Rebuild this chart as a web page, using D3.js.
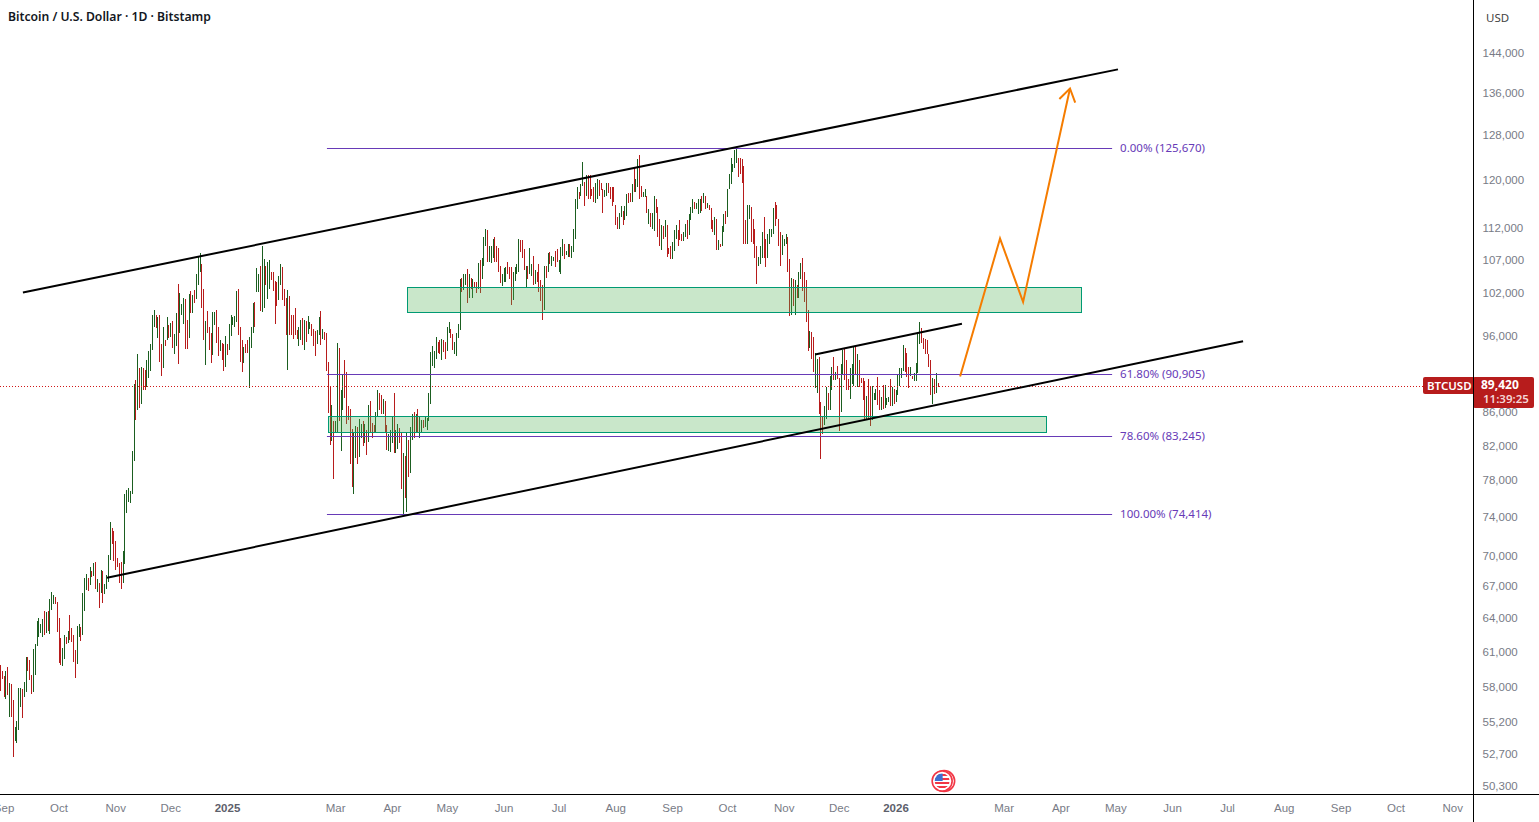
<!DOCTYPE html>
<html>
<head>
<meta charset="utf-8">
<title>Bitcoin / U.S. Dollar</title>
<script src="https://cdn.jsdelivr.net/npm/d3@7/dist/d3.min.js"></script>
<style>
  html, body { margin: 0; padding: 0; background: #fff; overflow: hidden; }
  svg { display: block; font-family: "Noto Sans", sans-serif; }
</style>
</head>
<body>
<svg id="chart" width="1539" height="822"></svg>
<script>
// Daily BTC/USD from 30 Aug 2024, in thousands of dollars.
const firstDay = Date.UTC(2024, 7, 30);
const highs = [
59.9,59.4,59.0,59.4,59.7,58.4,58.3,57.0,54.8,55.3,
58.0,58.0,57.9,58.5,60.6,60.6,60.3,59.1,61.3,61.7,
63.8,64.1,63.5,64.0,64.7,64.6,64.7,65.9,66.5,66.2,
66.0,65.6,64.1,62.3,61.4,62.5,62.4,62.9,64.4,63.2,
62.5,61.2,63.4,63.5,63.3,66.4,67.9,68.3,67.9,68.9,
68.6,69.3,69.4,67.8,67.4,68.7,68.6,67.3,68.2,70.1,
73.5,72.9,72.6,71.6,69.8,69.3,69.4,70.5,76.5,77.0,
77.2,76.9,81.4,89.6,90.1,93.5,91.7,91.8,91.7,91.4,
92.7,94.0,94.9,99.0,99.7,98.9,98.6,98.9,94.9,97.2,
95.4,98.6,97.5,97.8,98.1,96.3,99.2,103.5,102.1,100.5,
101.4,101.2,98.2,102.0,102.4,101.8,102.5,105.0,107.6,108.2,
106.4,102.7,98.1,99.5,97.3,96.4,99.3,99.3,99.7,97.2,
95.5,95.0,94.9,96.0,94.9,97.7,98.9,98.6,98.8,102.4,
102.7,97.2,95.4,94.5,94.9,95.4,95.9,97.2,100.7,100.8,
105.8,104.9,106.2,109.3,107.2,106.2,106.7,107.0,105.2,105.3,
103.9,103.7,104.7,106.4,106.0,102.7,101.4,102.5,101.7,99.0,
99.0,100.0,96.8,97.2,98.3,98.5,98.2,98.1,98.8,98.0,
97.7,97.0,96.7,96.8,98.6,99.5,97.0,96.6,96.4,92.5,
89.4,87.0,85.0,85.0,95.0,94.4,88.9,90.9,92.8,91.2,
86.9,86.5,84.0,83.5,84.4,84.3,85.3,84.6,85.0,84.6,
83.9,87.0,87.5,84.8,84.5,86.1,88.8,88.5,88.2,87.7,
87.5,84.5,83.4,83.9,85.5,88.5,83.9,84.6,84.2,83.7,
81.2,80.8,83.5,82.7,84.3,85.9,86.1,85.8,86.5,85.6,
85.1,85.1,85.5,85.4,88.5,93.9,94.7,94.0,95.9,95.2,
95.4,95.6,95.5,95.2,97.3,97.9,97.0,96.3,95.2,96.4,
97.7,104.2,104.3,104.9,104.9,105.7,104.9,104.3,104.2,103.7,
103.7,106.6,107.0,107.3,110.6,111.9,111.7,109.3,109.3,110.4,
110.7,109.2,108.9,106.2,104.9,105.8,106.0,106.7,106.0,106.0,
105.3,106.0,106.4,110.4,110.2,110.2,108.7,106.1,106.1,108.9,
106.4,107.6,105.5,105.2,106.4,104.0,103.3,106.1,106.2,108.2,
108.3,107.6,107.5,108.4,108.7,107.0,109.0,110.4,109.6,108.4,
109.6,109.6,109.2,111.9,116.9,118.8,118.1,119.3,123.2,119.8,
120.9,120.9,120.9,118.5,118.8,119.5,120.2,120.0,119.5,118.5,
118.3,119.6,119.6,118.8,118.8,118.8,115.9,113.9,114.6,115.6,
114.8,115.6,117.6,117.8,117.8,119.3,122.3,120.2,123.7,124.4,
119.1,118.0,118.5,117.4,115.2,114.6,114.6,117.3,116.9,115.5,
113.5,112.5,112.4,113.3,112.5,108.9,109.3,109.8,111.7,112.5,
111.7,113.3,111.2,111.5,112.8,113.3,114.3,115.5,116.8,116.3,
116.1,116.8,116.9,117.3,117.8,117.4,116.1,115.8,115.3,113.3,
113.9,113.5,110.2,109.6,112.4,114.3,114.8,118.6,121.1,123.9,
122.8,125.4,125.7,124.0,124.0,123.7,122.5,113.3,115.8,115.9,
115.5,113.5,111.9,109.2,107.5,109.3,111.5,113.9,110.4,111.2,
112.0,111.9,115.3,116.3,115.9,113.5,111.5,110.9,110.4,111.1,
110.6,107.2,104.4,104.2,104.0,103.3,105.3,106.6,107.3,105.2,
104.0,99.7,96.7,96.6,95.9,93.7,92.9,93.1,87.4,85.6,
86.9,89.3,88.5,90.6,91.8,93.1,91.2,92.0,90.4,92.2,
94.1,94.4,92.7,90.3,91.7,92.2,94.7,94.5,93.6,92.8,
90.4,90.4,90.0,88.1,90.3,89.4,89.4,88.5,89.0,90.5,
88.9,88.0,89.5,89.5,87.9,88.0,90.3,89.3,89.0,88.8,
90.9,91.7,91.7,94.8,94.4,93.7,91.8,91.8,90.6,91.0,
92.4,96.4,97.9,97.1,95.7,95.6,95.5,93.6,92.8,90.4,
90.3,91.0,89.8
];
const lows = [
57.7,58.7,57.2,57.1,57.4,55.6,55.6,52.5,53.7,53.6,
54.6,56.4,55.5,57.2,57.6,59.4,58.6,57.5,57.6,59.1,
61.6,62.4,62.7,62.4,62.5,62.7,62.9,62.6,64.8,65.4,
65.4,62.8,60.1,59.9,59.8,60.4,61.7,61.8,62.1,61.9,
60.2,58.8,60.0,62.4,62.0,62.5,64.7,66.7,66.6,67.2,
68.0,68.1,66.8,66.5,65.0,66.4,65.5,66.3,66.8,67.5,
69.6,71.3,69.5,68.7,68.9,67.4,66.8,67.4,69.2,74.5,
75.7,75.6,76.6,80.3,85.1,86.3,86.6,87.1,88.8,88.8,
89.3,90.4,91.3,94.1,97.2,97.1,95.7,92.5,90.6,91.7,
94.7,95.4,95.7,95.9,94.4,93.6,94.7,92.2,96.4,99.0,
97.7,94.3,94.3,95.7,99.2,99.2,100.7,101.2,103.3,105.3,
99.9,95.5,92.1,96.4,94.1,92.4,93.4,97.5,95.0,93.3,
94.0,92.8,91.3,91.8,93.4,94.1,96.0,97.5,97.2,97.9,
96.1,92.5,91.2,92.3,93.7,93.7,89.1,94.4,96.4,97.2,
102.2,102.2,99.5,99.3,100.0,103.3,101.2,102.7,104.0,102.4,
97.7,100.2,101.1,103.3,101.1,100.2,96.1,91.4,96.1,96.1,
95.6,96.1,95.6,94.7,95.5,94.8,94.1,95.2,96.3,97.0,
96.0,94.7,93.3,94.9,96.1,94.8,95.6,95.5,91.3,86.0,
82.1,82.6,78.2,83.7,83.7,85.0,81.4,86.4,87.9,84.6,
85.1,79.9,77.3,76.6,80.6,79.9,80.7,83.0,82.0,82.4,
81.0,82.5,83.5,83.0,83.7,83.7,85.5,86.3,85.9,85.8,
83.7,81.5,81.4,81.3,82.4,81.2,81.2,81.6,82.4,77.1,
74.4,76.1,74.6,78.4,78.9,82.7,83.0,83.5,83.5,83.0,
83.7,84.1,84.3,83.9,85.0,87.1,92.0,91.7,92.9,93.7,
93.6,92.8,93.9,92.9,94.0,96.4,95.7,94.1,93.6,93.3,
95.7,96.8,102.2,102.5,103.3,100.7,101.4,102.7,101.4,103.0,
102.1,102.7,102.1,104.2,106.1,109.2,106.7,106.7,106.6,107.3,
106.7,106.7,105.3,103.6,103.2,103.7,103.7,104.9,104.2,100.4,
101.1,103.9,105.0,105.3,108.3,107.3,105.5,103.0,104.2,104.9,
104.7,103.3,103.5,103.7,102.2,100.9,98.2,99.6,104.4,105.2,
106.4,106.2,106.9,106.0,106.7,105.3,105.0,107.6,107.2,107.8,
107.5,107.5,107.3,108.3,110.4,115.2,116.9,117.3,119.1,115.6,
117.4,116.8,116.8,117.3,116.4,116.1,116.9,117.4,118.3,114.6,
117.1,117.4,117.8,116.8,115.6,116.4,112.5,111.9,111.9,113.9,
112.5,113.3,114.1,116.1,116.3,116.3,118.0,118.1,118.8,116.9,
117.1,117.1,117.1,114.6,112.7,112.2,112.0,111.6,114.6,110.6,
109.2,108.6,110.3,110.6,107.5,108.0,107.2,107.2,108.4,110.4,
109.2,110.1,110.0,110.0,110.6,110.4,110.9,113.3,114.6,115.2,
115.2,114.3,114.6,114.8,116.1,115.2,115.3,115.0,111.9,111.4,
110.9,108.6,108.6,109.0,109.2,111.5,112.7,113.8,118.5,119.3,
121.4,122.1,123.0,120.5,121.1,119.6,109.6,109.6,109.6,113.6,
109.8,109.5,107.3,103.5,106.2,106.4,107.3,107.3,106.0,107.3,
109.6,110.6,111.1,112.4,113.6,109.2,106.2,107.8,109.3,109.5,
105.2,98.8,98.9,100.2,99.0,101.4,101.4,104.2,102.4,100.8,
97.9,94.0,94.4,92.9,91.2,89.1,88.5,85.9,80.5,83.4,
84.5,85.3,86.3,86.3,88.9,90.1,90.1,90.3,83.8,86.1,
90.9,90.1,88.9,88.9,87.7,89.6,89.4,90.8,89.3,89.3,
89.7,87.6,85.1,85.1,85.1,84.4,85.1,87.6,87.6,87.0,
86.4,86.4,86.5,86.6,87.0,87.4,86.8,86.8,87.1,87.3,
88.2,89.4,90.4,91.3,91.2,90.5,89.1,90.6,90.3,90.0,
90.0,91.0,94.9,95.0,94.3,93.6,93.6,91.8,88.2,87.1,
88.4,88.5,89.3
];
const closedUp = [
0,0,0,1,0,1,0,0,1,1, 1,1,0,1,1,0,0,0,1,1, 1,1,1,1,0,1,0,1,1,1,
0,0,0,0,1,1,0,1,0,0, 0,0,1,1,0,1,1,1,0,1, 0,1,0,1,0,1,0,1,1,1,
1,0,0,0,0,0,0,1,1,1, 1,1,1,1,0,1,0,1,0,0, 1,1,1,1,1,0,1,0,0,1,
0,1,0,1,0,1,1,0,1,1, 1,0,0,1,0,1,0,1,1,1, 0,0,1,0,0,0,1,1,0,0,
1,0,0,1,0,1,1,1,1,1, 0,0,0,1,0,0,1,1,1,0, 1,1,0,1,1,0,1,1,0,0,
0,0,1,1,0,0,0,1,0,0, 0,0,0,1,1,0,1,0,1,1, 0,0,0,1,1,0,1,0,0,0,
0,1,0,1,1,0,1,1,0,0, 0,0,0,1,1,0,1,1,0,1, 0,1,0,0,0,1,1,0,0,1,
0,0,1,1,1,0,1,1,0,0, 1,0,1,0,1,1,0,1,0,1, 1,0,1,1,1,1,1,1,1,0,
0,1,0,0,1,1,0,0,1,1, 1,1,0,1,1,0,1,0,1,0, 0,1,0,1,1,1,0,1,1,1,
0,0,0,0,1,1,1,0,0,0, 1,1,1,1,0,0,0,1,0,1, 1,0,1,0,0,0,0,1,0,1,
0,1,1,0,0,1,1,1,0,1, 1,0,1,1,1,1,0,1,1,0, 1,0,0,0,0,1,1,0,0,0,
1,1,0,0,0,0,0,0,1,1, 0,1,1,0,0,1,0,1,1,0, 0,1,1,0,1,0,1,1,0,0,
0,1,0,1,0,0,0,1,1,1, 0,0,0,1,1,0,1,1,1,0, 1,1,1,0,1,0,1,0,0,0,
1,0,1,0,1,1,0,1,1,1, 1,1,1,0,0,0,0,0,1,1, 0,0,0,0,1,1,1,0,0,1,
1,1,1,0,0,0,0,1,1,1, 0,0,1,0,1,0,1,1,0,0, 0,0,1,0,0,1,1,0,0,0,
1,1,0,1,1,0,1,0,0,1, 1,0,0,0,1,1,1,0,1,0, 0,0,0,1,0,0,1,1,1,0,
0,1,0,1,1,1,0,1,0,1, 1,1,1,1,0,0,0,1,0,1, 1,1,1,0,0,0,0,0,0,1,
0,1,0
];
const currentPrice = 89420;

// Axis labels.
const priceTicks = [144000,136000,128000,120000,112000,107000,102000,96000,90000,86000,82000,78000,74000,70000,67000,64000,61000,58000,55200,52700,50300];
const monthTicks = [[2024,8],[2024,9],[2024,10],[2024,11],[2025,0],[2025,2],[2025,3],[2025,4],[2025,5],[2025,6],[2025,7],[2025,8],[2025,9],[2025,10],[2025,11],[2026,0],[2026,2],[2026,3],[2026,4],[2026,5],[2026,6],[2026,7],[2026,8],[2026,9],[2026,10]];
const monthNames = ["Jan","Feb","Mar","Apr","May","Jun","Jul","Aug","Sep","Oct","Nov","Dec"];

// Retracement levels, drawn across a span given in days from firstDay.
const fibLevels = [["0.00%",125670],["61.80%",90905],["78.60%",83245],["100.00%",74414]];
const fibSpan = [178.3, 607];

// Trend channel and the smaller rising wedge: [day, price in thousands].
const trendLines = [
  [[12.3,102.2],[610.2,140.7]],
  [[58.2,67.9],[678.5,95.3]],
  [[444.8,93.5],[525,97.7]]
];
// Supply and demand zones: [start day, end day, top, bottom].
const zones = [
  [222,590,103.0,99.4],
  [178.9,571,85.6,83.7]
];
// Projected path, ending in an arrow head.
const projection = [[524,90.6],[545.8,110.4],[558.4,100.8],[584,136.9]];

const dayMs = 864e5;
const asDate = d => new Date(firstDay + d * dayMs);

const W = 1539, H = 822, axisX = 1473, axisY = 794;
const x = d3.scaleUtc().domain([new Date(Date.UTC(2024,9,1)), new Date(Date.UTC(2026,0,1))]).range([59, 896]);
const y = d3.scaleLog().domain([50300, 144000]).range([787, 53.2]);
const px = d => x(asDate(d));

const svg = d3.select("#chart");
const GREEN = "#1b5e20", RED = "#b71c1c", PURPLE = "#673ab7", ORANGE = "#f57c00", TEXT = "#787b86";

// Daily high-low bars.
svg.append("g").attr("shape-rendering", "crispEdges")
  .selectAll("rect").data(highs).join("rect")
  .attr("x", (h, i) => Math.floor(px(i)))
  .attr("width", 1)
  .attr("y", h => Math.round(y(h * 1000)))
  .attr("height", (h, i) => Math.max(1, Math.round(y(lows[i] * 1000)) - Math.round(y(h * 1000))))
  .attr("fill", (h, i) => closedUp[i] ? GREEN : RED);

// Last-price marker line.
svg.append("line")
  .attr("x1", 0).attr("x2", 1423)
  .attr("y1", Math.round(y(currentPrice)) + 0.5).attr("y2", Math.round(y(currentPrice)) + 0.5)
  .attr("stroke", "#d01818").attr("stroke-width", 1).attr("stroke-dasharray", "1 2");

// Zones.
svg.append("g").selectAll("rect").data(zones).join("rect")
  .attr("x", z => Math.round(px(z[0])) + 0.5)
  .attr("width", z => Math.round(px(z[1]) - px(z[0])))
  .attr("y", z => Math.round(y(z[2] * 1000)) + 0.5)
  .attr("height", z => Math.round(y(z[3] * 1000) - y(z[2] * 1000)))
  .attr("fill", "rgba(76,175,80,0.3)")
  .attr("stroke", "#009a73").attr("stroke-width", 1);

// Retracement lines and labels.
const fib = svg.append("g");
fib.selectAll("line").data(fibLevels).join("line")
  .attr("x1", px(fibSpan[0])).attr("x2", px(fibSpan[1]))
  .attr("y1", d => Math.round(y(d[1])) + 0.5).attr("y2", d => Math.round(y(d[1])) + 0.5)
  .attr("stroke", PURPLE).attr("stroke-width", 1);
fib.selectAll("text").data(fibLevels).join("text")
  .attr("x", px(fibSpan[1]) + 8).attr("y", d => y(d[1]))
  .attr("dy", "0.35em").attr("fill", PURPLE).attr("font-size", 11.5)
  .text(d => `${d[0]} (${d3.format(",")(d[1])})`);

// Trend lines.
const linePath = d3.line().x(d => px(d[0])).y(d => y(d[1] * 1000));
svg.append("g").selectAll("path").data(trendLines).join("path")
  .attr("d", linePath).attr("fill", "none").attr("stroke", "#000").attr("stroke-width", 2);

// Projection with its arrow head, sized from the last leg.
const g = svg.append("g").attr("fill", "none").attr("stroke", ORANGE).attr("stroke-width", 2);
g.append("path").attr("d", linePath(projection));
const tip = projection[projection.length - 1], prev = projection[projection.length - 2];
const tx = px(tip[0]), ty = y(tip[1] * 1000);
const ang = Math.atan2(y(prev[1] * 1000) - ty, px(prev[0]) - tx);
const headLen = 15, spread = Math.PI / 5.5;
g.append("path").attr("d", d3.line()([
  [tx + headLen * Math.cos(ang - spread), ty + headLen * Math.sin(ang - spread)],
  [tx, ty],
  [tx + headLen * Math.cos(ang + spread), ty + headLen * Math.sin(ang + spread)]
]));

// Price scale.
const yAxis = svg.append("g").attr("transform", `translate(${axisX},-0.7)`)
  .call(d3.axisRight(y).tickValues(priceTicks).tickSize(0).tickPadding(9.5).tickFormat(d3.format(",")));
yAxis.select(".domain").remove();
yAxis.selectAll("text").attr("fill", TEXT).attr("font-size", 11.5).attr("font-family", "inherit");

// Time scale.
const xAxis = svg.append("g").attr("transform", `translate(-0.5,${axisY})`)
  .call(d3.axisBottom(x)
    .tickValues(monthTicks.map(m => new Date(Date.UTC(m[0], m[1], 1))))
    .tickSize(0).tickPadding(10)
    .tickFormat(d => d.getUTCMonth() === 0 ? d.getUTCFullYear() : monthNames[d.getUTCMonth()]));
xAxis.select(".domain").remove();
xAxis.selectAll("text")
  .attr("fill", d => d.getUTCMonth() === 0 ? "#5d606b" : TEXT)
  .attr("font-weight", d => d.getUTCMonth() === 0 ? 600 : 400)
  .attr("font-size", 11.5).attr("font-family", "inherit");

// Last-price tags.
const tagTop = Math.round(y(currentPrice)) - 9;
svg.append("rect").attr("x", 1423).attr("y", tagTop).attr("width", 52).attr("height", 17).attr("rx", 2).attr("fill", RED);
svg.append("rect").attr("x", axisX).attr("y", tagTop).attr("width", 61).attr("height", 31).attr("rx", 2).attr("fill", RED);
svg.append("text").attr("x", 1427).attr("y", tagTop + 13).attr("fill", "#fff").attr("font-size", 11.5).attr("font-weight", 600).text("BTCUSD");
svg.append("text").attr("x", 1481).attr("y", tagTop + 12).attr("fill", "#fff").attr("font-size", 12).attr("font-weight", 700).text(d3.format(",")(currentPrice));
svg.append("text").attr("x", 1483).attr("y", tagTop + 26).attr("fill", "#f4d6d6").attr("font-size", 11.5).attr("font-weight", 600).text("11:39:25");

// Pane borders.
svg.append("line").attr("x1", axisX + 0.5).attr("x2", axisX + 0.5).attr("y1", 0).attr("y2", H).attr("stroke", "#000");
svg.append("line").attr("x1", 0).attr("x2", W).attr("y1", axisY + 0.5).attr("y2", axisY + 0.5).attr("stroke", "#000");

// Header and currency caption.
svg.append("text").attr("x", 8).attr("y", 20.5).attr("fill", "#131722").attr("font-size", 12.2).attr("font-weight", 600).text("Bitcoin / U.S. Dollar · 1D · Bitstamp");
svg.append("text").attr("x", 1486).attr("y", 21.5).attr("fill", "#444").attr("font-size", 11.5).text("USD");

// Economic event marker.
const ev = svg.append("g").attr("transform", `translate(${px(514.2)},781)`);
ev.append("circle").attr("cx", 2).attr("r", 10.5).attr("fill", "#fff").attr("stroke", "#f23645").attr("stroke-width", 1.6);
ev.append("circle").attr("r", 10).attr("fill", "#fff").attr("stroke", "#f23645").attr("stroke-width", 1.6);
ev.append("clipPath").attr("id", "flagClip").append("circle").attr("r", 7.5);
const flag = ev.append("g").attr("clip-path", "url(#flagClip)");
flag.selectAll("rect.stripe").data(d3.range(-7, 8, 4)).join("rect").attr("class", "stripe")
  .attr("x", -8).attr("width", 16).attr("y", d => d).attr("height", 2).attr("fill", "#f23645");
flag.append("rect").attr("x", -8).attr("y", -8).attr("width", 8.5).attr("height", 8).attr("fill", "#3d6fd0");
</script>
</body>
</html>
